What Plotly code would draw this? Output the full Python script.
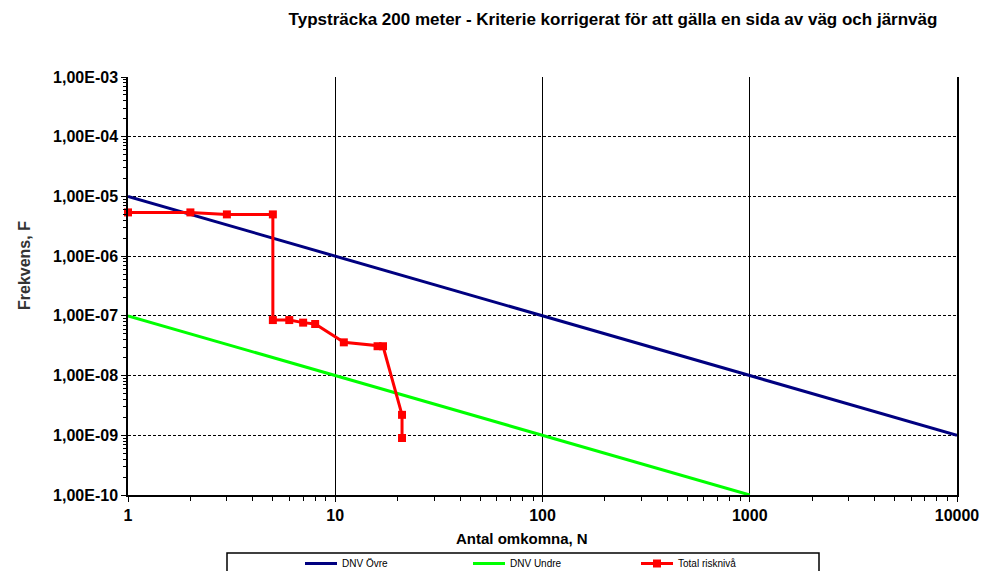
import plotly.graph_objects as go

# Data
dnv_ovre_n = [1, 10000]
dnv_ovre_f = [1e-5, 1e-9]
dnv_undre_n = [1, 1000]
dnv_undre_f = [1e-7, 1e-10]
total_n = [1, 2, 3, 5, 5, 6, 7, 8, 11, 16, 17, 21, 21]
total_f = [5.4e-6, 5.4e-6, 5.0e-6, 5.0e-6, 8.5e-8, 8.5e-8, 7.7e-8, 7.3e-8,
           3.6e-8, 3.1e-8, 3.1e-8, 2.2e-9, 9.0e-10]

y_tickvals = [1e-10, 1e-9, 1e-8, 1e-7, 1e-6, 1e-5, 1e-4, 1e-3]
y_ticktext = ["1,00E-10", "1,00E-09", "1,00E-08", "1,00E-07",
              "1,00E-06", "1,00E-05", "1,00E-04", "1,00E-03"]
x_tickvals = [1, 10, 100, 1000, 10000]
x_ticktext = ["1", "10", "100", "1000", "10000"]

x_minor = [m * 10 ** d for d in range(0, 4) for m in range(2, 10)]
y_minor = [m * 10.0 ** d for d in range(-10, -3) for m in range(2, 10)]

W, H = 984, 571
L, R, T, B = 128, 957, 77, 495

def px(x):
    return (x - L) / (R - L)

def py(y):
    return (B - y) / (B - T)

font_family = "Liberation Sans, Arial, sans-serif"

fig = go.Figure()
fig.add_trace(go.Scatter(x=dnv_ovre_n, y=dnv_ovre_f, mode="lines", name="DNV Övre",
                         line=dict(color="#000080", width=3)))
fig.add_trace(go.Scatter(x=dnv_undre_n, y=dnv_undre_f, mode="lines", name="DNV Undre",
                         line=dict(color="#00FF00", width=3)))
fig.add_trace(go.Scatter(x=total_n, y=total_f, mode="lines+markers", name="Total risknivå",
                         line=dict(color="#FF0000", width=3),
                         marker=dict(symbol="square", size=8, color="#FF0000"),
                         cliponaxis=False))

fig.update_layout(
    width=W, height=H,
    margin=dict(l=L, r=W - R, t=T, b=H - B, autoexpand=False),
    paper_bgcolor="white", plot_bgcolor="white",
    font=dict(family=font_family, color="black", size=12),
    title=dict(text="<b>Typsträcka 200 meter - Kriterie korrigerat för att gälla en sida av väg och järnväg</b>",
               x=613 / W, xanchor="center", y=1 - 19 / H, yanchor="middle",
               font=dict(size=17, family=font_family, color="black")),
    showlegend=True,
    legend=dict(orientation="h", x=px(300), xanchor="left", y=py(549), yanchor="top",
                font=dict(size=10, family=font_family, color="black"),
                bgcolor="rgba(0,0,0,0)", borderwidth=0,
                entrywidth=121, entrywidthmode="pixels",
                itemwidth=32, tracegroupgap=0),
    xaxis=dict(type="log", range=[0, 4], tickvals=x_tickvals, ticktext=x_ticktext,
               showgrid=True, gridcolor="black", gridwidth=1,
               showline=True, linecolor="black", linewidth=1.5, mirror=False,
               ticks="outside", ticklen=5, tickcolor="black",
               tickfont=dict(size=16, family=font_family, color="black", weight="bold"),
               minor=dict(ticks="outside", ticklen=4, tickcolor="black",
                          tickvals=x_minor, showgrid=False),
               zeroline=False),
    yaxis=dict(type="log", range=[-10, -3], tickvals=y_tickvals, ticktext=y_ticktext,
               showgrid=True, gridcolor="black", gridwidth=1, griddash="3px,2px",
               showline=True, linecolor="black", linewidth=1.5, mirror=True,
               ticks="outside", ticklen=5, tickcolor="black",
               tickfont=dict(size=16, family=font_family, color="black", weight="bold"),
               minor=dict(ticks="outside", ticklen=3, tickcolor="black",
                          tickvals=y_minor, showgrid=False),
               zeroline=False),
    shapes=[dict(type="rect", xref="paper", yref="paper",
                 x0=px(227), x1=px(819), y0=py(553), y1=py(590),
                 line=dict(color="black", width=1.5), fillcolor="rgba(0,0,0,0)", layer="below")],
    annotations=[
        dict(text="<b>Antal omkomna, N</b>", xref="paper", yref="paper",
             x=px(522), y=py(538), xanchor="center", yanchor="middle", showarrow=False,
             font=dict(size=15, family=font_family, color="black")),
        dict(text="<b>Frekvens, F</b>", xref="paper", yref="paper",
             x=px(24), y=py(266), xanchor="center", yanchor="middle", showarrow=False,
             textangle=-90, font=dict(size=16, family=font_family, color="#333")),
    ],
)

fig.write_html("out.html")
